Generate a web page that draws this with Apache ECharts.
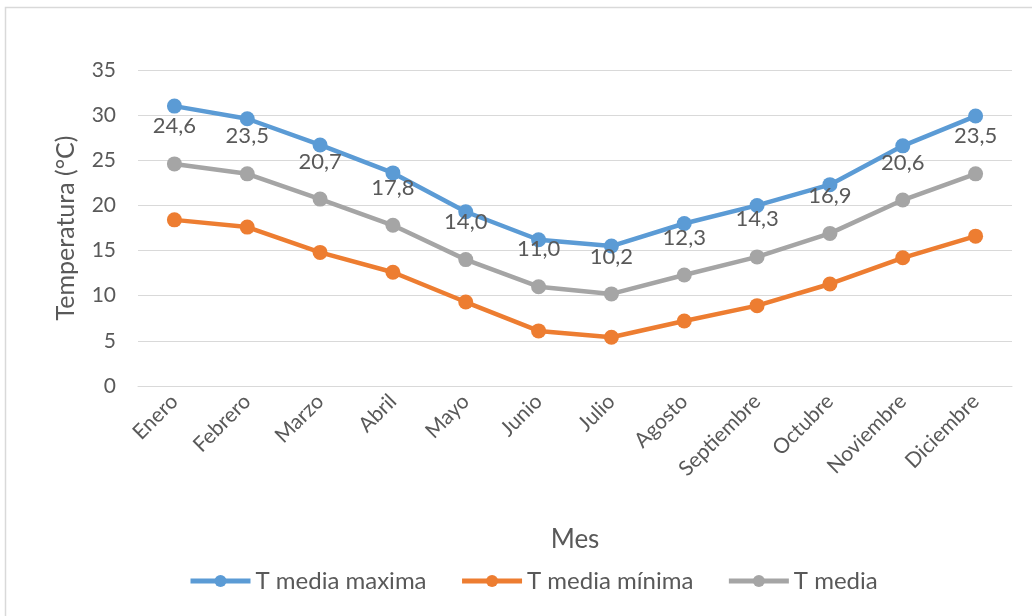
<!DOCTYPE html>
<html>
<head>
<meta charset="utf-8">
<script src="https://cdn.jsdelivr.net/npm/echarts@6/dist/echarts.min.js"></script>
<style>
  html, body { margin: 0; padding: 0; background: #fff; }
  #chart { width: 1032px; height: 616px; }
</style>
</head>
<body>
<div id="chart"></div>
<script>
const meses = ['Enero', 'Febrero', 'Marzo', 'Abril', 'Mayo', 'Junio', 'Julio', 'Agosto', 'Septiembre', 'Octubre', 'Noviembre', 'Diciembre'];
const tMaxima = [31.0, 29.6, 26.7, 23.6, 19.3, 16.2, 15.5, 18.0, 20.0, 22.3, 26.6, 29.9];
const tMinima = [18.4, 17.6, 14.8, 12.6, 9.3, 6.1, 5.4, 7.2, 8.9, 11.3, 14.2, 16.6];
const tMedia = [24.6, 23.5, 20.7, 17.8, 14.0, 11.0, 10.2, 12.3, 14.3, 16.9, 20.6, 23.5];

const font = 'Lato, "Open Sans", sans-serif';
const grey = '#595959';

const chart = echarts.init(document.getElementById('chart'));

const serie = (name, data, color, labels) => ({
  name,
  type: 'line',
  data,
  symbol: 'circle',
  symbolSize: 15,
  lineStyle: { width: 4.5, color },
  itemStyle: { color },
  label: labels ? {
    show: true,
    position: 'top',
    distance: 19,
    color: grey,
    fontFamily: font,
    fontSize: 22,
    formatter: p => p.value.toFixed(1).replace('.', ',')
  } : { show: false },
  z: labels ? 3 : 2
});

chart.setOption({
  animation: false,
  textStyle: { fontFamily: font },
  graphic: [{
    type: 'rect',
    shape: { x: 5.5, y: 7.5, width: 1040, height: 620 },
    style: { fill: 'none', stroke: '#d9d9d9', lineWidth: 1.5 },
    silent: true
  }],
  grid: { left: 138, right: 20, top: 70, bottom: 230, containLabel: false },
  legend: {
    top: 564,
    left: 183,
    itemWidth: 60,
    itemHeight: 15,
    itemGap: 33,
    lineStyle: { width: 5 },
    textStyle: { color: grey, fontSize: 24, fontFamily: font },
    data: ['T media maxima', 'T media mínima', 'T media']
  },
  xAxis: {
    type: 'category',
    data: meses,
    name: 'Mes',
    nameLocation: 'middle',
    nameGap: 141,
    nameTextStyle: { color: grey, fontSize: 26, fontFamily: font },
    axisLine: { show: true, lineStyle: { color: '#d9d9d9' } },
    axisTick: { show: false },
    axisLabel: { rotate: 45, color: grey, fontSize: 21, margin: 12, fontFamily: font, interval: 0 }
  },
  yAxis: {
    type: 'value',
    min: 0,
    max: 35,
    interval: 5,
    name: 'Temperatura (°C)',
    nameLocation: 'middle',
    nameGap: 60,
    nameTextStyle: { color: grey, fontSize: 25, fontFamily: font },
    axisLine: { show: false },
    axisTick: { show: false },
    axisLabel: { color: grey, fontSize: 21, margin: 22, fontFamily: font },
    splitLine: { lineStyle: { color: '#d9d9d9', width: 1 } }
  },
  series: [
    serie('T media maxima', tMaxima, '#5b9bd5', false),
    serie('T media mínima', tMinima, '#ed7d31', false),
    serie('T media', tMedia, '#a5a5a5', true)
  ]
});
</script>
</body>
</html>
